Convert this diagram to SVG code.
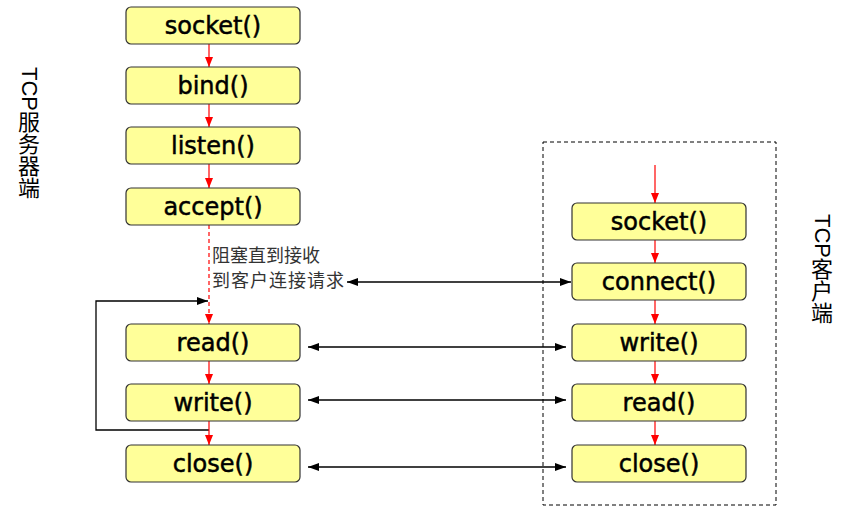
<svg xmlns="http://www.w3.org/2000/svg" width="847" height="506" viewBox="0 0 847 506">
<style>
.box{fill:#FFFF99;stroke:#333;stroke-width:1.2}
.lbl{font-family:"DejaVu Sans",sans-serif;font-size:24px;fill:#000;stroke:#000;stroke-width:0.5;text-anchor:middle;dominant-baseline:central}
.red{stroke:#FF0000;stroke-width:1.2;fill:none}
.blk{stroke:#000;stroke-width:1.3;fill:none}
.side{font-family:"Liberation Sans","Noto Sans CJK SC",sans-serif;font-size:22px;fill:#000;writing-mode:vertical-rl}
.cjk{font-family:"Noto Sans CJK SC",sans-serif}
.note{font-family:"Noto Sans CJK SC",sans-serif;font-size:18px;fill:#333}
</style>
<defs>
<marker id="ra" markerUnits="userSpaceOnUse" markerWidth="10" markerHeight="10" viewBox="0 0 10 10" refX="10" refY="5" orient="auto"><path d="M0,1 L10,5 L0,9 Z" fill="#FF0000"/></marker>
<marker id="ba" markerUnits="userSpaceOnUse" markerWidth="11" markerHeight="10" viewBox="0 0 11 10" refX="11" refY="5" orient="auto-start-reverse"><path d="M0,1 L11,5 L0,9 Z" fill="#000"/></marker>
</defs>
<rect x="543" y="142" width="233" height="363" fill="none" stroke="#000" stroke-width="1" stroke-dasharray="4,3"/>
<text class="side" x="29" y="67">TCP<tspan class="cjk">服务器端</tspan></text>
<text class="side" x="822" y="214">TCP<tspan class="cjk">客户端</tspan></text>
<g id="connectors">
<path class="red" d="M209,44 V67" marker-end="url(#ra)"/>
<path class="red" d="M209,104 V127" marker-end="url(#ra)"/>
<path class="red" d="M209,164 V188" marker-end="url(#ra)"/>
<path class="red" d="M209,225 V324" stroke-dasharray="4,3" marker-end="url(#ra)"/>
<path class="red" d="M209,361 V384" marker-end="url(#ra)"/>
<path class="blk" d="M209,430 H96 V301 H208" marker-end="url(#ba)"/>
<path class="red" d="M209,421 V445" marker-end="url(#ra)"/>
<path class="red" d="M655,165 V203" marker-end="url(#ra)"/>
<path class="red" d="M655,240 V263" marker-end="url(#ra)"/>
<path class="red" d="M655,300 V324" marker-end="url(#ra)"/>
<path class="red" d="M655,361 V384" marker-end="url(#ra)"/>
<path class="red" d="M655,421 V445" marker-end="url(#ra)"/>
<path class="blk" d="M347,282 H571" marker-start="url(#ba)" marker-end="url(#ba)"/>
<path class="blk" d="M308,347 H566" marker-start="url(#ba)" marker-end="url(#ba)"/>
<path class="blk" d="M308,400 H566" marker-start="url(#ba)" marker-end="url(#ba)"/>
<path class="blk" d="M308,467 H566" marker-start="url(#ba)" marker-end="url(#ba)"/>
</g>
<text class="note" x="212" y="262">阻塞直到接收</text>
<text class="note" x="212" y="286.5" textLength="132">到客户连接请求</text>
<g id="s-socket"><rect class="box" x="126" y="7" width="174" height="37" rx="5"/><text class="lbl" x="213" y="25.5">socket()</text></g>
<g id="s-bind"><rect class="box" x="126" y="67" width="174" height="37" rx="5"/><text class="lbl" x="213" y="85.5">bind()</text></g>
<g id="s-listen"><rect class="box" x="126" y="127" width="174" height="37" rx="5"/><text class="lbl" x="213" y="145.5">listen()</text></g>
<g id="s-accept"><rect class="box" x="126" y="188" width="174" height="37" rx="5"/><text class="lbl" x="213" y="206.5">accept()</text></g>
<g id="s-read"><rect class="box" x="126" y="324" width="174" height="37" rx="5"/><text class="lbl" x="213" y="342.5">read()</text></g>
<g id="s-write"><rect class="box" x="126" y="384" width="174" height="37" rx="5"/><text class="lbl" x="213" y="402.5">write()</text></g>
<g id="s-close"><rect class="box" x="126" y="445" width="174" height="37" rx="5"/><text class="lbl" x="213" y="463.5">close()</text></g>
<g id="c-socket"><rect class="box" x="572" y="203" width="174" height="37" rx="5"/><text class="lbl" x="659" y="221.5">socket()</text></g>
<g id="c-connect"><rect class="box" x="572" y="263" width="174" height="37" rx="5"/><text class="lbl" x="659" y="281.5">connect()</text></g>
<g id="c-write"><rect class="box" x="572" y="324" width="174" height="37" rx="5"/><text class="lbl" x="659" y="342.5">write()</text></g>
<g id="c-read"><rect class="box" x="572" y="384" width="174" height="37" rx="5"/><text class="lbl" x="659" y="402.5">read()</text></g>
<g id="c-close"><rect class="box" x="572" y="445" width="174" height="37" rx="5"/><text class="lbl" x="659" y="463.5">close()</text></g>
</svg>
